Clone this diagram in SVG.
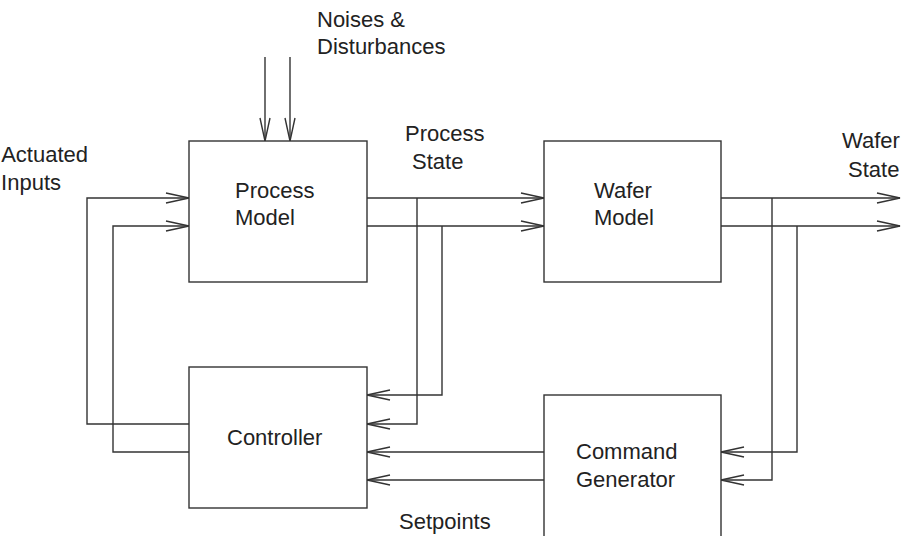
<svg xmlns="http://www.w3.org/2000/svg" width="905" height="536" viewBox="0 0 905 536">
<style>
  .box { fill: #fff; stroke: #333; stroke-width: 1.4; }
  .wire { fill: none; stroke: #333; stroke-width: 1.4; }
  text { font-family: "Liberation Sans", Arial, sans-serif; font-size: 22px; fill: #222; }
</style>
<defs>
  <marker id="arr" markerUnits="userSpaceOnUse" markerWidth="30" markerHeight="14" viewBox="-25 -7 27 14" refX="0" refY="0" orient="auto">
    <path d="M-23,-5 L0,0 L-23,5" fill="none" stroke="#333" stroke-width="1.4"/>
  </marker>
</defs>
<rect width="905" height="536" fill="#fff"/>

<g id="connectors">
  <path class="wire" d="M265,57 V141" marker-end="url(#arr)"/>
  <path class="wire" d="M290,57 V141" marker-end="url(#arr)"/>
  <path class="wire" d="M189,424 H87 V198 H189" marker-end="url(#arr)"/>
  <path class="wire" d="M189,452 H113 V226 H189" marker-end="url(#arr)"/>
  <path class="wire" d="M367,198 H544" marker-end="url(#arr)"/>
  <path class="wire" d="M367,226 H544" marker-end="url(#arr)"/>
  <path class="wire" d="M417,198 V424 H367" marker-end="url(#arr)"/>
  <path class="wire" d="M442,226 V395 H367" marker-end="url(#arr)"/>
  <path class="wire" d="M544,452 H367" marker-end="url(#arr)"/>
  <path class="wire" d="M544,480 H367" marker-end="url(#arr)"/>
  <path class="wire" d="M721,198 H900" marker-end="url(#arr)"/>
  <path class="wire" d="M721,226 H900" marker-end="url(#arr)"/>
  <path class="wire" d="M772,198 V480 H721" marker-end="url(#arr)"/>
  <path class="wire" d="M797,226 V452 H721" marker-end="url(#arr)"/>
</g>

<g id="process-model">
  <rect class="box" x="189" y="141" width="178" height="141"/>
  <text x="235" y="198">Process</text>
  <text x="235" y="225">Model</text>
</g>
<g id="wafer-model">
  <rect class="box" x="544" y="141" width="177" height="141"/>
  <text x="594" y="198">Wafer</text>
  <text x="594" y="225">Model</text>
</g>
<g id="controller">
  <rect class="box" x="189" y="367" width="178" height="141"/>
  <text x="227" y="445">Controller</text>
</g>
<g id="command-generator">
  <rect class="box" x="544" y="395" width="177" height="160"/>
  <text x="576" y="459">Command</text>
  <text x="576" y="487">Generator</text>
</g>

<g id="labels">
  <text x="317" y="27">Noises &amp;</text>
  <text x="317" y="54">Disturbances</text>
  <text x="405" y="141">Process</text>
  <text x="412" y="169">State</text>
  <text x="842" y="148">Wafer</text>
  <text x="848" y="177">State</text>
  <text x="88" y="162" text-anchor="end">Actuated</text>
  <text x="61" y="190" text-anchor="end">Inputs</text>
  <text x="399" y="529">Setpoints</text>
</g>
</svg>
